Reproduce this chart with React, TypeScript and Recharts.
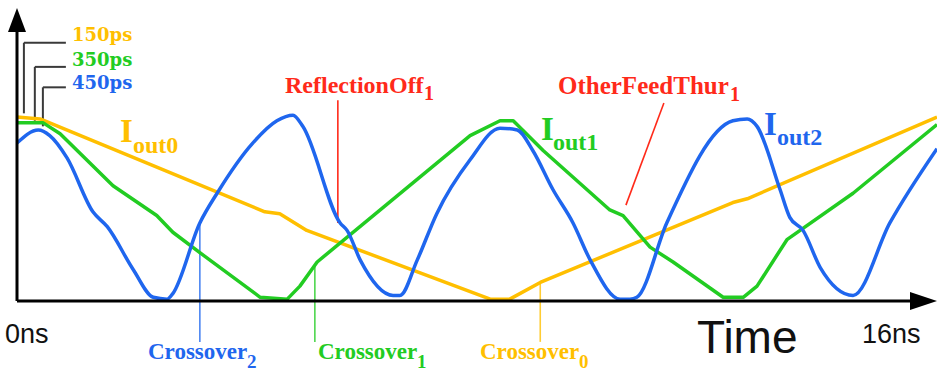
import React from 'react';
import { LineChart, Line, XAxis, YAxis, ReferenceLine, ReferenceDot } from 'recharts';

// output currents over one 16ns sweep, t in ns, level normalised to peak
const IOUT0 = [
  { t: 0, v: 0.99 }, { t: 0.4, v: 0.98 }, { t: 4.31, v: 0.48 }, { t: 4.57, v: 0.47 },
  { t: 5.04, v: 0.38 }, { t: 8.23, v: 0.01 }, { t: 8.57, v: 0.01 }, { t: 9.1, v: 0.1 },
  { t: 12.45, v: 0.53 }, { t: 12.7, v: 0.55 }, { t: 16, v: 0.99 },
];

const IOUT1 = [
  { t: 0, v: 0.96 }, { t: 0.45, v: 0.96 }, { t: 0.75, v: 0.9 }, { t: 1.67, v: 0.62 },
  { t: 2.43, v: 0.46 }, { t: 2.71, v: 0.37 }, { t: 3.18, v: 0.26 }, { t: 4.23, v: 0.02 },
  { t: 4.7, v: 0.01 }, { t: 4.92, v: 0.08 }, { t: 5.22, v: 0.21 }, { t: 7.88, v: 0.89 },
  { t: 8.4, v: 0.97 }, { t: 8.63, v: 0.97 }, { t: 9.15, v: 0.81 }, { t: 10.31, v: 0.49 },
  { t: 10.54, v: 0.46 }, { t: 11.01, v: 0.29 }, { t: 11.41, v: 0.21 }, { t: 12.28, v: 0.02 },
  { t: 12.63, v: 0.02 }, { t: 12.87, v: 0.08 }, { t: 13.39, v: 0.33 }, { t: 14.54, v: 0.58 },
  { t: 16, v: 0.95 },
];

const IOUT2 = [
  { t: 0, v: 0.85 }, { t: 0.37, v: 0.92 }, { t: 0.57, v: 0.89 }, { t: 0.87, v: 0.77 },
  { t: 1.32, v: 0.48 }, { t: 1.57, v: 0.4 }, { t: 2.02, v: 0.17 }, { t: 2.37, v: 0.02 },
  { t: 2.61, v: 0.01 }, { t: 2.71, v: 0.04 }, { t: 3.18, v: 0.42 }, { t: 3.48, v: 0.58 },
  { t: 4.1, v: 0.85 }, { t: 4.52, v: 0.97 }, { t: 4.8, v: 1.0 }, { t: 4.97, v: 0.94 },
  { t: 5.62, v: 0.42 }, { t: 5.74, v: 0.38 }, { t: 5.97, v: 0.22 }, { t: 6.54, v: 0.03 },
  { t: 6.66, v: 0.03 }, { t: 6.96, v: 0.22 }, { t: 7.3, v: 0.47 }, { t: 7.88, v: 0.76 },
  { t: 8.4, v: 0.93 }, { t: 8.7, v: 0.92 }, { t: 8.97, v: 0.81 }, { t: 9.32, v: 0.6 },
  { t: 9.67, v: 0.42 }, { t: 9.97, v: 0.22 }, { t: 10.49, v: 0.01 }, { t: 10.66, v: 0.01 },
  { t: 10.78, v: 0.02 }, { t: 11.3, v: 0.42 }, { t: 12.45, v: 0.97 }, { t: 12.7, v: 0.98 },
  { t: 12.87, v: 0.94 }, { t: 13.27, v: 0.6 }, { t: 13.44, v: 0.45 }, { t: 13.67, v: 0.38 },
  { t: 13.97, v: 0.18 }, { t: 14.54, v: 0.03 }, { t: 15.18, v: 0.42 }, { t: 16, v: 0.82 },
];

// rise times and where each crossover happens
const RISE_LABELS = ['150ps', '350ps', '450ps'];
const RISE_MARKS = [
  { t: 0.12, v: 1.01, top: 1.39 },
  { t: 0.31, v: 0.97, top: 1.26 },
  { t: 0.45, v: 0.94, top: 1.15 },
];
const CROSSOVERS = [
  { name: 'Crossover', sub: '2', t: 3.18, v: 0.42 },
  { name: 'Crossover', sub: '1', t: 5.18, v: 0.19 },
  { name: 'Crossover', sub: '0', t: 9.1, v: 0.1 },
];

const YELLOW = '#FFBF00';
const GREEN = '#22CC22';
const BLUE = '#1F66EE';
const RED = '#FF2A1A';
const COLORS = [YELLOW, GREEN, BLUE];

const serif = '"Liberation Serif", "Times New Roman", serif';
const sans = '"Liberation Sans", Arial, sans-serif';

const UpArrow = (props: any) => {
  const { cx, cy } = props;
  return <polygon points={`${cx},${cy - 5} ${cx - 9},${cy + 19} ${cx + 9},${cy + 19}`} fill="#000" />;
};

const RightArrow = (props: any) => {
  const { cx, cy } = props;
  return <polygon points={`${cx},${cy} ${cx - 27},${cy - 9} ${cx - 27},${cy + 9}`} fill="#000" />;
};

export default function App() {
  return (
    <div style={{ position: 'absolute', left: 0, top: 0, background: '#fff' }}>
      <LineChart width={937} height={373} margin={{ top: 13, right: 0, left: 17, bottom: 72 }}>
        <XAxis type="number" dataKey="t" domain={[0, 16]} hide allowDuplicatedCategory={false} />
        <YAxis type="number" domain={[0, 1.55]} hide />

        {RISE_MARKS.map((m, i) => (
          <ReferenceLine key={`rv${i}`} ifOverflow="visible" stroke="#3a3a3a" strokeWidth={2}
            segment={[{ x: m.t, y: m.v }, { x: m.t, y: m.top }]} />
        ))}
        {RISE_MARKS.map((m, i) => (
          <ReferenceLine key={`rh${i}`} ifOverflow="visible" stroke="#3a3a3a" strokeWidth={2}
            segment={[{ x: m.t, y: m.top }, { x: 0.85, y: m.top }]} />
        ))}

        {CROSSOVERS.map((c, i) => (
          <ReferenceLine key={`c${i}`} ifOverflow="visible" stroke={[BLUE, GREEN, YELLOW][i]}
            strokeOpacity={0.8} strokeWidth={1.6}
            segment={[{ x: c.t, y: c.v }, { x: c.t, y: -0.22 }]} />
        ))}

        <ReferenceLine ifOverflow="visible" stroke={RED} strokeWidth={1.6}
          segment={[{ x: 5.58, y: 1.08 }, { x: 5.58, y: 0.42 }]} />
        <ReferenceLine ifOverflow="visible" stroke={RED} strokeWidth={1.6}
          segment={[{ x: 11.25, y: 1.066 }, { x: 10.59, y: 0.516 }]} />

        <Line data={IOUT0} dataKey="v" type="linear" stroke={YELLOW} strokeWidth={3.5} strokeLinejoin="round" dot={false} isAnimationActive={false} />
        <Line data={IOUT1} dataKey="v" type="linear" stroke={GREEN} strokeWidth={3.5} strokeLinejoin="round" dot={false} isAnimationActive={false} />
        <Line data={IOUT2} dataKey="v" type="monotone" stroke={BLUE} strokeWidth={3.5} strokeLinejoin="round" dot={false} isAnimationActive={false} />

        {/* axes with arrowheads */}
        <ReferenceLine ifOverflow="visible" stroke="#000" strokeWidth={3}
          segment={[{ x: 0, y: 0 }, { x: 15.6, y: 0 }]} />
        <ReferenceLine ifOverflow="visible" stroke="#000" strokeWidth={3}
          segment={[{ x: 0, y: 0 }, { x: 0, y: 1.45 }]} />
        <ReferenceDot x={0} y={1.55} r={1} ifOverflow="visible" shape={UpArrow} />
        <ReferenceDot x={16} y={0} r={1} ifOverflow="visible" shape={RightArrow} />

        {RISE_LABELS.map((s, i) => (
          <text key={s} x={72} y={[41, 66, 89][i]} fill={COLORS[i]} fontFamily='"DejaVu Serif", serif'
            fontWeight="bold" fontSize={18}>{s}</text>
        ))}

        <text x={120} y={142} fill={YELLOW} fontFamily={serif} fontWeight="bold" fontSize={33}>I</text>
        <text x={133} y={153} fill={YELLOW} fontFamily={serif} fontWeight="bold" fontSize={24}>out0</text>
        <text x={541} y={140} fill={GREEN} fontFamily={serif} fontWeight="bold" fontSize={33}>I</text>
        <text x={553} y={150} fill={GREEN} fontFamily={serif} fontWeight="bold" fontSize={24}>out1</text>
        <text x={764} y={135} fill={BLUE} fontFamily={serif} fontWeight="bold" fontSize={33}>I</text>
        <text x={777} y={145} fill={BLUE} fontFamily={serif} fontWeight="bold" fontSize={24}>out2</text>

        <text x={285} y={93} fill={RED} fontFamily={serif} fontWeight="bold" fontSize={24}>ReflectionOff</text>
        <text x={424} y={100} fill={RED} fontFamily={serif} fontWeight="bold" fontSize={20}>1</text>
        <text x={558} y={94} fill={RED} fontFamily={serif} fontWeight="bold" fontSize={25}>OtherFeedThur</text>
        <text x={730} y={101} fill={RED} fontFamily={serif} fontWeight="bold" fontSize={20}>1</text>

        {CROSSOVERS.map((c, i) => {
          const x = [148, 318, 480][i];
          const col = [BLUE, GREEN, YELLOW][i];
          return (
            <g key={`cl${i}`}>
              <text x={x} y={359} fill={col} fontFamily={serif} fontWeight="bold" fontSize={23}>{c.name}</text>
              <text x={x + 99} y={368} fill={col} fontFamily={serif} fontWeight="bold" fontSize={19}>{c.sub}</text>
            </g>
          );
        })}

        <text x={5} y={343} fill="#111" fontFamily={sans} fontSize={27}>0ns</text>
        <text x={862} y={343} fill="#111" fontFamily={sans} fontSize={27}>16ns</text>
        <text x={697} y={353} fill="#111" fontFamily={sans} fontSize={46}>Time</text>
      </LineChart>
    </div>
  );
}
